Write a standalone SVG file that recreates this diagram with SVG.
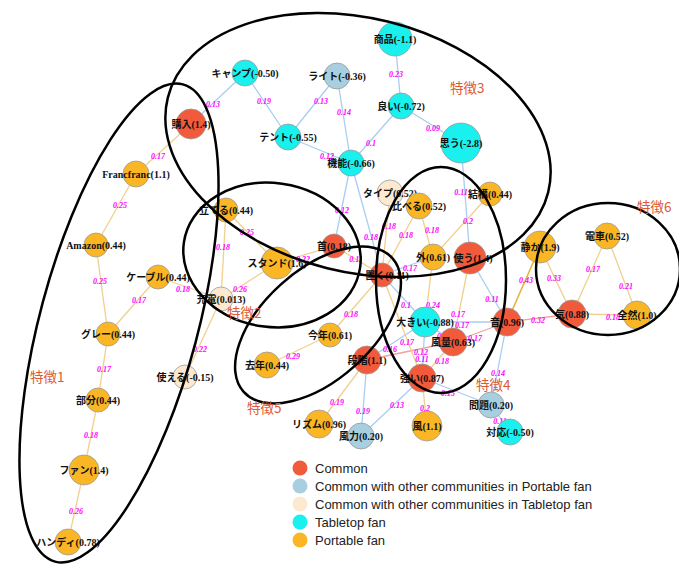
<svg xmlns="http://www.w3.org/2000/svg" width="679" height="565" viewBox="0 0 679 565">
<style>
.e{fill:none;stroke-width:1.3}
.eb{stroke:#a9cdf2}
.eo{stroke:#f0d08e}
.er{stroke:#f2a09c}
.ed{stroke:#e8b545;stroke-width:1.6}
.el{font-family:"Liberation Serif",serif;font-style:italic;font-weight:bold;font-size:8px;fill:#ff00ff;text-anchor:middle}
.n circle{stroke:#9a9a9a;stroke-width:0.8}
.red{fill:#f25a3c}
.lb{fill:#a8cfdf}
.bg{fill:#fce9d0}
.cy{fill:#1af0ee}
.or{fill:#fbb626}
.nl{font-family:"Liberation Serif","Noto Sans CJK JP",serif;font-weight:bold;font-size:10px;fill:#111;text-anchor:middle}
.cl{fill:none;stroke:#000;stroke-width:2.5}
.ft{font-family:"Noto Sans CJK JP",sans-serif;font-size:13.5px;fill:#dc5a34}
.lg{font-family:"Liberation Sans",Arial,sans-serif;font-size:13px;fill:#222}
</style>
<rect width="679" height="565" fill="#fff"/>
<g id="connectors">
<line class="e eb" x1="191" y1="124" x2="245" y2="73"/>
<line class="e eo" x1="191" y1="124" x2="136" y2="174"/>
<line class="e eo" x1="136" y1="174" x2="96" y2="245"/>
<line class="e eo" x1="96" y1="245" x2="108" y2="334"/>
<line class="e eo" x1="158" y1="277" x2="108" y2="334"/>
<line class="e eo" x1="158" y1="277" x2="221" y2="299"/>
<line class="e eo" x1="108" y1="334" x2="98" y2="400"/>
<line class="e eo" x1="98" y1="400" x2="84" y2="470"/>
<line class="e eo" x1="84" y1="470" x2="68" y2="542"/>
<line class="e eb" x1="245" y1="73" x2="288" y2="137"/>
<line class="e eb" x1="337" y1="76" x2="288" y2="137"/>
<line class="e eb" x1="337" y1="76" x2="351" y2="163"/>
<line class="e eb" x1="288" y1="137" x2="351" y2="163"/>
<line class="e eb" x1="401" y1="106" x2="351" y2="163"/>
<line class="e eb" x1="395" y1="39" x2="401" y2="106"/>
<line class="e eb" x1="401" y1="106" x2="461" y2="143"/>
<line class="e eb" x1="351" y1="163" x2="334" y2="246"/>
<line class="e eb" x1="351" y1="163" x2="382" y2="275"/>
<line class="e eb" x1="461" y1="143" x2="470" y2="258"/>
<line class="e eo" x1="490" y1="194" x2="433" y2="257"/>
<line class="e eo" x1="419" y1="206" x2="433" y2="257"/>
<line class="e eo" x1="419" y1="206" x2="382" y2="275"/>
<line class="e eo" x1="390" y1="193" x2="382" y2="275"/>
<line class="e eo" x1="334" y1="246" x2="382" y2="275"/>
<line class="e eo" x1="334" y1="246" x2="277" y2="263"/>
<line class="e eo" x1="226" y1="210" x2="277" y2="263"/>
<line class="e eo" x1="226" y1="210" x2="221" y2="299"/>
<line class="e eo" x1="277" y1="263" x2="221" y2="299"/>
<line class="e eo" x1="221" y1="299" x2="185" y2="377"/>
<line class="e eb" x1="382" y1="275" x2="433" y2="257"/>
<line class="e eo" x1="382" y1="275" x2="330" y2="335"/>
<line class="e eo" x1="330" y1="335" x2="267" y2="365"/>
<line class="e eb" x1="382" y1="275" x2="425" y2="322"/>
<line class="e eo" x1="433" y1="257" x2="425" y2="322"/>
<line class="e eo" x1="470" y1="258" x2="453" y2="342"/>
<line class="e eb" x1="425" y1="322" x2="507" y2="322"/>
<line class="e er" x1="453" y1="342" x2="507" y2="322"/>
<line class="e ed" x1="540" y1="247" x2="507" y2="322"/>
<line class="e eo" x1="540" y1="247" x2="572" y2="314"/>
<line class="e eo" x1="607" y1="236" x2="572" y2="314"/>
<line class="e eo" x1="607" y1="236" x2="637" y2="315"/>
<line class="e eo" x1="572" y1="314" x2="637" y2="315"/>
<line class="e er" x1="507" y1="322" x2="572" y2="314"/>
<line class="e eb" x1="507" y1="322" x2="491" y2="405"/>
<line class="e eb" x1="422" y1="378" x2="491" y2="405"/>
<line class="e eb" x1="491" y1="405" x2="510" y2="432"/>
<line class="e eo" x1="422" y1="378" x2="427" y2="426"/>
<line class="e eb" x1="422" y1="378" x2="361" y2="436"/>
<line class="e eb" x1="367" y1="360" x2="361" y2="436"/>
<line class="e eo" x1="367" y1="360" x2="319" y2="424"/>
<line class="e eb" x1="367" y1="360" x2="425" y2="322"/>
<line class="e er" x1="367" y1="360" x2="453" y2="342"/>
<line class="e eb" x1="422" y1="378" x2="425" y2="322"/>
<line class="e eo" x1="382" y1="275" x2="422" y2="378"/>
<line class="e eo" x1="422" y1="378" x2="453" y2="342"/>
<line class="e eb" x1="425" y1="322" x2="453" y2="342"/>
<line class="e eb" x1="470" y1="258" x2="507" y2="322"/>
<g>
<text class="el" x="213" y="107">0.13</text>
<text class="el" x="158" y="159">0.17</text>
<text class="el" x="120" y="208">0.25</text>
<text class="el" x="100" y="284">0.25</text>
<text class="el" x="139" y="303">0.17</text>
<text class="el" x="183" y="292">0.18</text>
<text class="el" x="104" y="372">0.17</text>
<text class="el" x="91" y="438">0.18</text>
<text class="el" x="76" y="514">0.26</text>
<text class="el" x="264" y="104">0.19</text>
<text class="el" x="321" y="104">0.13</text>
<text class="el" x="344" y="115">0.14</text>
<text class="el" x="327" y="159">0.12</text>
<text class="el" x="371" y="146">0.1</text>
<text class="el" x="396" y="77">0.23</text>
<text class="el" x="433" y="131">0.09</text>
<text class="el" x="342" y="213">0.12</text>
<text class="el" x="371" y="240">0.18</text>
<text class="el" x="461" y="195">0.11</text>
<text class="el" x="468" y="224">0.2</text>
<text class="el" x="432" y="233">0.18</text>
<text class="el" x="406" y="238">0.18</text>
<text class="el" x="389" y="229">0.18</text>
<text class="el" x="356" y="262">0.11</text>
<text class="el" x="303" y="262">0.22</text>
<text class="el" x="247" y="235">0.25</text>
<text class="el" x="223" y="250">0.18</text>
<text class="el" x="240" y="292">0.26</text>
<text class="el" x="200" y="352">0.22</text>
<text class="el" x="410" y="271">0.17</text>
<text class="el" x="351" y="317">0.18</text>
<text class="el" x="293" y="359">0.29</text>
<text class="el" x="406" y="308">0.1</text>
<text class="el" x="433" y="308">0.24</text>
<text class="el" x="458" y="317">0.17</text>
<text class="el" x="462" y="328">0.17</text>
<text class="el" x="475" y="341">0.17</text>
<text class="el" x="526" y="283">0.43</text>
<text class="el" x="554" y="281">0.33</text>
<text class="el" x="593" y="272">0.17</text>
<text class="el" x="626" y="289">0.21</text>
<text class="el" x="613" y="320">0.18</text>
<text class="el" x="538" y="323">0.32</text>
<text class="el" x="498" y="376">0.14</text>
<text class="el" x="448" y="396">0.15</text>
<text class="el" x="500" y="424">0.11</text>
<text class="el" x="425" y="411">0.2</text>
<text class="el" x="397" y="408">0.13</text>
<text class="el" x="363" y="414">0.19</text>
<text class="el" x="337" y="405">0.19</text>
<text class="el" x="390" y="352">0.16</text>
<text class="el" x="421" y="355">0.12</text>
<text class="el" x="422" y="362">0.11</text>
<text class="el" x="407" y="345">0.17</text>
<text class="el" x="442" y="364">0.18</text>
<text class="el" x="442" y="339">0.1</text>
<text class="el" x="492" y="302">0.11</text>
</g>
</g>
<g id="n-konyu" class="n"><circle class="red" cx="191" cy="124" r="15"/><text class="nl" x="191" y="128">購入(1.4)</text></g>
<g id="n-francfranc" class="n"><circle class="or" cx="136" cy="174" r="13"/><text class="nl" x="136" y="178">Francfranc(1.1)</text></g>
<g id="n-camp" class="n"><circle class="cy" cx="245" cy="73" r="13"/><text class="nl" x="245" y="77">キャンプ(-0.50)</text></g>
<g id="n-light" class="n"><circle class="lb" cx="337" cy="76" r="13"/><text class="nl" x="337" y="80">ライト(-0.36)</text></g>
<g id="n-shohin" class="n"><circle class="cy" cx="395" cy="39" r="17"/><text class="nl" x="395" y="43">商品(-1.1)</text></g>
<g id="n-yoi" class="n"><circle class="cy" cx="401" cy="106" r="13"/><text class="nl" x="401" y="110">良い(-0.72)</text></g>
<g id="n-tent" class="n"><circle class="cy" cx="288" cy="137" r="13"/><text class="nl" x="288" y="141">テント(-0.55)</text></g>
<g id="n-kino" class="n"><circle class="cy" cx="351" cy="163" r="13"/><text class="nl" x="351" y="167">機能(-0.66)</text></g>
<g id="n-omou" class="n"><circle class="cy" cx="461" cy="143" r="20"/><text class="nl" x="461" y="147">思う(-2.8)</text></g>
<g id="n-kekko" class="n"><circle class="or" cx="490" cy="194" r="12"/><text class="nl" x="490" y="198">結構(0.44)</text></g>
<g id="n-type" class="n"><circle class="bg" cx="390" cy="193" r="13"/><text class="nl" x="390" y="197">タイプ(0.52)</text></g>
<g id="n-kuraberu" class="n"><circle class="or" cx="419" cy="206" r="13"/><text class="nl" x="419" y="210">比べる(0.52)</text></g>
<g id="n-soto" class="n"><circle class="or" cx="433" cy="257" r="13"/><text class="nl" x="433" y="261">外(0.61)</text></g>
<g id="n-tsukau" class="n"><circle class="red" cx="470" cy="258" r="16"/><text class="nl" x="473" y="262">使う(1.4)</text></g>
<g id="n-kubi" class="n"><circle class="red" cx="334" cy="246" r="12"/><text class="nl" x="334" y="250">首(0.18)</text></g>
<g id="n-oku" class="n"><circle class="red" cx="382" cy="275" r="12"/><text class="nl" x="387" y="279">置く(0.11)</text></g>
<g id="n-tateru" class="n"><circle class="or" cx="226" cy="210" r="12"/><text class="nl" x="226" y="214">立てる(0.44)</text></g>
<g id="n-stand" class="n"><circle class="or" cx="277" cy="263" r="16"/><text class="nl" x="277" y="267">スタンド(1.6)</text></g>
<g id="n-jyuden" class="n"><circle class="bg" cx="221" cy="299" r="12"/><text class="nl" x="221" y="303">充電(0.013)</text></g>
<g id="n-kotoshi" class="n"><circle class="or" cx="330" cy="335" r="12"/><text class="nl" x="330" y="339">今年(0.61)</text></g>
<g id="n-cable" class="n"><circle class="or" cx="158" cy="277" r="12"/><text class="nl" x="158" y="281">ケーブル(0.44)</text></g>
<g id="n-amazon" class="n"><circle class="or" cx="96" cy="245" r="12"/><text class="nl" x="96" y="249">Amazon(0.44)</text></g>
<g id="n-gray" class="n"><circle class="or" cx="108" cy="334" r="12"/><text class="nl" x="108" y="338">グレー(0.44)</text></g>
<g id="n-tsukaeru" class="n"><circle class="bg" cx="185" cy="377" r="12"/><text class="nl" x="185" y="381">使える(-0.15)</text></g>
<g id="n-bubun" class="n"><circle class="or" cx="98" cy="400" r="12"/><text class="nl" x="98" y="404">部分(0.44)</text></g>
<g id="n-fan" class="n"><circle class="or" cx="84" cy="470" r="15"/><text class="nl" x="84" y="474">ファン(1.4)</text></g>
<g id="n-handy" class="n"><circle class="or" cx="68" cy="542" r="13"/><text class="nl" x="68" y="546">ハンディ(0.78)</text></g>
<g id="n-shizuka" class="n"><circle class="or" cx="540" cy="247" r="16"/><text class="nl" x="540" y="251">静か(1.9)</text></g>
<g id="n-densha" class="n"><circle class="or" cx="607" cy="236" r="13"/><text class="nl" x="607" y="240">電車(0.52)</text></g>
<g id="n-ki" class="n"><circle class="red" cx="572" cy="314" r="14"/><text class="nl" x="572" y="318">気(0.88)</text></g>
<g id="n-zenzen" class="n"><circle class="or" cx="637" cy="315" r="14"/><text class="nl" x="637" y="319">全然(1.0)</text></g>
<g id="n-oto" class="n"><circle class="red" cx="507" cy="322" r="14"/><text class="nl" x="507" y="326">音(0.96)</text></g>
<g id="n-ookii" class="n"><circle class="cy" cx="425" cy="322" r="15"/><text class="nl" x="425" y="326">大きい(-0.88)</text></g>
<g id="n-furyo" class="n"><circle class="red" cx="453" cy="342" r="14"/><text class="nl" x="453" y="346">風量(0.63)</text></g>
<g id="n-dankai" class="n"><circle class="red" cx="367" cy="360" r="14"/><text class="nl" x="367" y="364">段階(1.1)</text></g>
<g id="n-tsuyoi" class="n"><circle class="red" cx="422" cy="378" r="14"/><text class="nl" x="422" y="382">強い(0.87)</text></g>
<g id="n-kyonen" class="n"><circle class="or" cx="267" cy="365" r="13"/><text class="nl" x="267" y="369">去年(0.44)</text></g>
<g id="n-rhythm" class="n"><circle class="or" cx="319" cy="424" r="14"/><text class="nl" x="319" y="428">リズム(0.96)</text></g>
<g id="n-furyoku" class="n"><circle class="lb" cx="361" cy="436" r="13"/><text class="nl" x="361" y="440">風力(0.20)</text></g>
<g id="n-kaze" class="n"><circle class="or" cx="427" cy="426" r="15"/><text class="nl" x="427" y="430">風(1.1)</text></g>
<g id="n-mondai" class="n"><circle class="lb" cx="491" cy="405" r="13"/><text class="nl" x="491" y="409">問題(0.20)</text></g>
<g id="n-taio" class="n"><circle class="cy" cx="510" cy="432" r="13"/><text class="nl" x="510" y="436">対応(-0.50)</text></g>
<g id="clusters">
<ellipse class="cl" cx="119" cy="323" rx="79" ry="247" transform="rotate(15 119 323)"/>
<ellipse class="cl" cx="272" cy="255" rx="89" ry="72" transform="rotate(8 272 255)"/>
<ellipse class="cl" cx="358" cy="145" rx="196" ry="127" transform="rotate(14 358 145)"/>
<ellipse class="cl" cx="441" cy="280" rx="65" ry="113"/>
<ellipse class="cl" cx="318" cy="325" rx="100" ry="55" transform="rotate(-42 318 325)"/>
<ellipse class="cl" cx="608" cy="269" rx="72" ry="66"/>
<text class="ft" x="30" y="382">特徴1</text>
<text class="ft" x="227" y="318">特徴2</text>
<text class="ft" x="450" y="93">特徴3</text>
<text class="ft" x="476" y="390">特徴4</text>
<text class="ft" x="247" y="413">特徴5</text>
<text class="ft" x="637" y="212">特徴6</text>
</g>
<g id="legend">
<circle class="red" cx="300" cy="468" r="7.5"/>
<circle class="lb" cx="300" cy="486" r="7.5"/>
<circle class="bg" cx="300" cy="504" r="7.5"/>
<circle class="cy" cx="300" cy="522" r="7.5"/>
<circle class="or" cx="300" cy="540" r="7.5"/>
<text class="lg" x="315" y="473">Common</text>
<text class="lg" x="315" y="491">Common with other communities in Portable fan</text>
<text class="lg" x="315" y="509">Common with other communities in Tabletop fan</text>
<text class="lg" x="315" y="527">Tabletop fan</text>
<text class="lg" x="315" y="545">Portable fan</text>
</g>
</svg>
